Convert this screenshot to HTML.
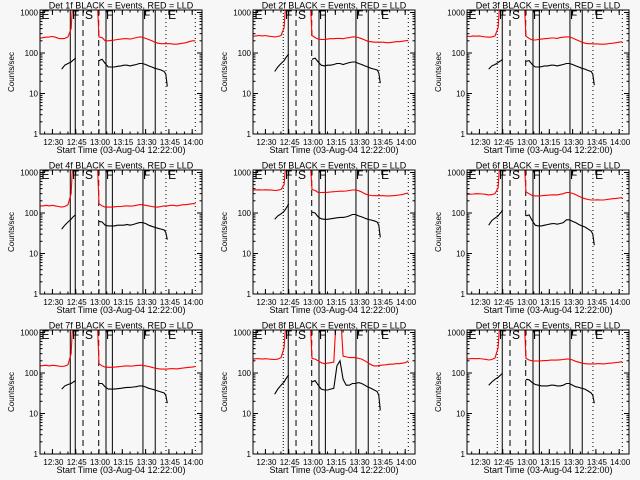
<!DOCTYPE html>
<html><head><meta charset="utf-8"><style>
html,body{margin:0;padding:0;background:#f7f7f7;}
svg{display:block;font-family:"Liberation Sans",sans-serif;}
</style></head><body>
<svg id="chart" width="640" height="480" viewBox="0 0 640 480">
<rect width="640" height="480" fill="#f7f7f7"/>
</svg>
<script>
const times = [0,2,4,6,8,10,12,14,16,18,20,21,22,23,24,30,36,37,38,40,42,44,46,48,50,52,54,56,58,60,62,64,66,68,70,72,74,76,78,80,81,82,84,86,88,90,92,94,96,98,100,102];
const tickLabels = ["12:30","12:45","13:00","13:15","13:30","13:45","14:00"];
const tickMinutes = [8,23,38,53,68,83,98];
const yTickValues = [1,10,100,1000];
const yTickLabels = ["1","10","100","1000"];
const solidLines = [22.7,42.5,46.6,66.3,74.2];
const dashedLines = [27.7,37.8];
const dottedLines = [81.1,100];
const firstLine = 19.5;
const letterMarks = ["E","F","S","F","F","E"];
const letterTimes = [1,20.6,29,42.5,66.3,82.5];
const N = null, H = 5000;
const red1 = [230,240,245,250,255,245,230,225,230,250,400,1500,H,H,H,H,H,1500,250,240,200,200,205,210,215,220,225,225,220,230,240,250,245,230,215,200,185,175,170,170,170,170,170,165,165,170,175,180,190,200,200,N];
const blk1 = [N,N,N,N,N,N,N,40,50,55,60,65,70,75,N,N,N,N,65,70,55,45,45,45,47,48,50,50,48,50,52,55,55,52,48,45,42,40,38,35,30,15,N,N,N,N,N,N,N,N,N,N];
const red2 = [260,265,270,265,270,260,255,250,255,270,420,1500,H,H,H,H,H,1500,270,240,220,215,215,220,225,225,230,230,225,235,240,250,250,240,225,210,195,190,185,185,185,185,185,180,180,185,190,190,195,200,205,N];
const blk2 = [N,N,N,N,N,N,N,35,45,55,65,75,85,95,N,N,N,N,70,75,60,50,48,50,50,52,55,55,52,55,58,60,60,55,52,48,45,42,40,38,32,18,N,N,N,N,N,N,N,N,N,N];
const red3 = [260,255,265,260,265,255,250,245,250,265,420,1500,H,H,H,H,H,1500,260,230,210,210,215,220,225,230,235,235,230,240,245,250,250,235,215,200,185,175,170,170,168,168,168,165,165,168,172,175,180,185,190,N];
const blk3 = [N,N,N,N,N,N,N,40,48,52,58,62,65,70,N,N,N,N,62,65,52,45,45,46,48,48,50,50,48,50,52,55,55,52,48,45,42,40,37,35,30,16,N,N,N,N,N,N,N,N,N,N];
const red4 = [150,150,155,150,155,150,145,140,145,160,300,1500,H,H,H,H,H,1500,170,150,140,140,140,142,145,145,148,150,148,150,155,160,160,155,150,145,140,140,145,150,150,150,155,155,150,155,160,160,165,170,170,N];
const blk4 = [N,N,N,N,N,N,N,40,50,60,70,78,85,90,N,N,N,N,62,60,50,48,48,48,50,50,50,52,50,52,55,58,58,55,50,47,44,42,40,38,33,22,N,N,N,N,N,N,N,N,N,N];
const red5 = [370,372,375,370,375,372,368,360,365,380,500,1500,H,H,H,H,H,1500,380,360,320,320,322,325,330,335,340,345,345,350,360,370,370,355,330,300,280,270,268,268,268,268,268,265,265,268,272,278,285,300,310,N];
const blk5 = [N,N,N,N,N,N,N,70,85,95,110,125,145,170,N,N,N,N,105,100,80,72,70,70,72,74,76,78,78,80,85,92,92,85,80,75,70,67,64,60,50,25,N,N,N,N,N,N,N,N,N,N];
const red6 = [290,292,295,300,298,295,290,280,285,300,420,1500,H,H,H,H,H,1500,330,300,270,265,265,268,272,275,280,282,280,290,300,320,320,305,285,260,240,225,215,210,210,210,212,210,210,215,220,225,230,235,240,N];
const blk6 = [N,N,N,N,N,N,N,50,65,75,85,95,105,120,N,N,N,N,85,90,65,50,48,48,50,52,54,55,53,55,58,68,68,62,58,52,48,45,40,36,30,16,N,N,N,N,N,N,N,N,N,N];
const red7 = [150,152,155,150,155,152,148,145,148,160,300,1500,H,H,H,H,H,1500,170,150,140,138,138,140,142,145,148,150,148,150,152,155,155,150,145,138,132,128,125,125,125,125,128,128,126,130,132,135,138,140,145,N];
const blk7 = [N,N,N,N,N,N,N,40,48,52,55,58,62,65,N,N,N,N,55,55,45,40,40,40,41,42,43,44,44,45,46,48,48,45,42,40,38,36,34,32,28,18,N,N,N,N,N,N,N,N,N,N];
const red8 = [220,225,225,220,225,222,218,215,220,240,420,1500,H,H,H,H,H,1500,230,220,200,180,170,175,180,185,H,H,260,250,240,240,240,230,220,200,180,160,150,150,152,155,158,160,165,165,170,170,175,180,200,N];
const blk8 = [N,N,N,N,N,N,N,30,40,50,60,70,80,90,N,N,N,N,60,65,50,40,38,38,40,42,150,200,70,50,50,55,55,58,55,50,45,42,38,35,28,12,N,N,N,N,N,N,N,N,N,N];
const red9 = [220,225,228,225,228,222,218,210,215,235,420,1500,H,H,H,H,H,1500,230,210,200,198,198,200,202,205,208,210,208,212,215,220,220,210,195,185,175,170,168,168,168,168,170,170,168,172,175,178,182,185,190,N];
const blk9 = [N,N,N,N,N,N,N,50,60,70,78,85,92,100,N,N,N,N,70,68,58,52,50,48,48,48,50,50,48,48,50,55,55,50,46,44,42,40,36,32,28,18,N,N,N,N,N,N,N,N,N,N];
const redSeries = [red1,red2,red3,red4,red5,red6,red7,red8,red9];
const blackSeries = [blk1,blk2,blk3,blk4,blk5,blk6,blk7,blk8,blk9];

const NS = "http://www.w3.org/2000/svg";
const svg = document.getElementById('chart');
const colOff = [0,213,427], rowOff = [0,160,320];
const X0 = 40, X1 = 202, Y0 = 10, Y1 = 134, PXMIN = 1.553, DEC = 40.5;
function mk(tag, attrs, parent){const e=document.createElementNS(NS,tag);for(const k in attrs)e.setAttribute(k,attrs[k]);parent.appendChild(e);return e;}

for(let p=0;p<9;p++){
  const ox = colOff[p%3], oy = rowOff[Math.floor(p/3)];
  const xs = t => ox + X0 + t*PXMIN;
  const ys = v => oy + Y1 - Math.log10(v)*DEC;
  const g = mk('g',{},svg);
  
  
  const cp = mk('clipPath',{id:'clip'+p},g);
  mk('rect',{x:ox+X0,y:oy+Y0,width:X1-X0,height:Y1-Y0},cp);
  const title = mk('text',{x:ox+121,y:oy+8.5,'font-size':'9','text-anchor':'middle',fill:'#000'},g);
  title.textContent = 'Det '+(p+1)+'f BLACK = Events, RED = LLD';
  
  
  const vl = (t,dash)=>{const l=mk('line',{x1:xs(t),x2:xs(t),y1:oy+Y0,y2:oy+Y1,stroke:'#000','stroke-width':1},g); if(dash) l.setAttribute('stroke-dasharray',dash);  };
  vl(firstLine, p%3===0?null:'1,2');
  solidLines.forEach(t=>vl(t,null));
  dashedLines.forEach(t=>vl(t,'6,4'));
  dottedLines.forEach(t=>vl(t,'1,3'));
  letterMarks.forEach((L,i)=>{const tx=mk('text',{x:xs(letterTimes[i]),y:oy+Y0+9,'font-size':'12',fill:'#000'},g);tx.textContent=L;
    
    });
  const drawSeries = (vals,color,name)=>{
    let d='',pen=false;
    vals.forEach((v,i)=>{ if(v==null){pen=false;return;} const x=xs(times[i]).toFixed(1), y=ys(v).toFixed(1); d+=(pen?'L':'M')+x+' '+y+' '; pen=true;});
    const path = mk('path',{d:d,fill:'none',stroke:color,'stroke-width':1.1,'clip-path':'url(#clip'+p+')'},g);
    
    
  };
  drawSeries(redSeries[p],'#ff0000','lld-series');
  drawSeries(blackSeries[p],'#000000','events-series');
  const fr = mk('rect',{x:ox+X0,y:oy+Y0,width:X1-X0,height:Y1-Y0,fill:'none',stroke:'#000','stroke-width':1},g);
  
  
  yTickValues.forEach((v,i)=>{
    const y = ys(v);
    mk('line',{x1:ox+X0,x2:ox+X0+5,y1:y,y2:y,stroke:'#000'},g);
    mk('line',{x1:ox+X1-5,x2:ox+X1,y1:y,y2:y,stroke:'#000'},g);
    const tl = mk('text',{x:ox+X0-2,y:y+3,'font-size':'8','text-anchor':'end',fill:'#000'},g); tl.textContent=yTickLabels[i];
    
    
    if(v<1000) for(let m=2;m<10;m++){const yy=ys(v*m); mk('line',{x1:ox+X0,x2:ox+X0+2.5,y1:yy,y2:yy,stroke:'#000'},g); mk('line',{x1:ox+X1-2.5,x2:ox+X1,y1:yy,y2:yy,stroke:'#000'},g);}
  });
  tickMinutes.forEach((t,i)=>{
    const x = xs(t);
    mk('line',{x1:x,x2:x,y1:oy+Y1,y2:oy+Y1-5,stroke:'#000'},g);
    mk('line',{x1:x,x2:x,y1:oy+Y0,y2:oy+Y0+5,stroke:'#000'},g);
    const tl = mk('text',{x:x+1,y:oy+Y1+11,'font-size':'8','text-anchor':'middle',fill:'#000'},g); tl.textContent=tickLabels[i];
    
    
  });
  for(let t=3;t<103;t+=5){ const x=xs(t); mk('line',{x1:x,x2:x,y1:oy+Y1,y2:oy+Y1-2.5,stroke:'#000'},g); mk('line',{x1:x,x2:x,y1:oy+Y0,y2:oy+Y0+2.5,stroke:'#000'},g);}
  const xt = mk('text',{x:ox+121,y:oy+153,'font-size':'9','text-anchor':'middle',fill:'#000'},g);
  xt.textContent='Start Time (03-Aug-04 12:22:00)';
  
  
  const yt = mk('text',{x:0,y:0,'font-size':'8','text-anchor':'middle',fill:'#000',transform:'translate('+(ox+14)+','+(oy+72)+') rotate(-90)'},g);
  yt.textContent='Counts/sec';
  
  
}
</script>
</body></html>
